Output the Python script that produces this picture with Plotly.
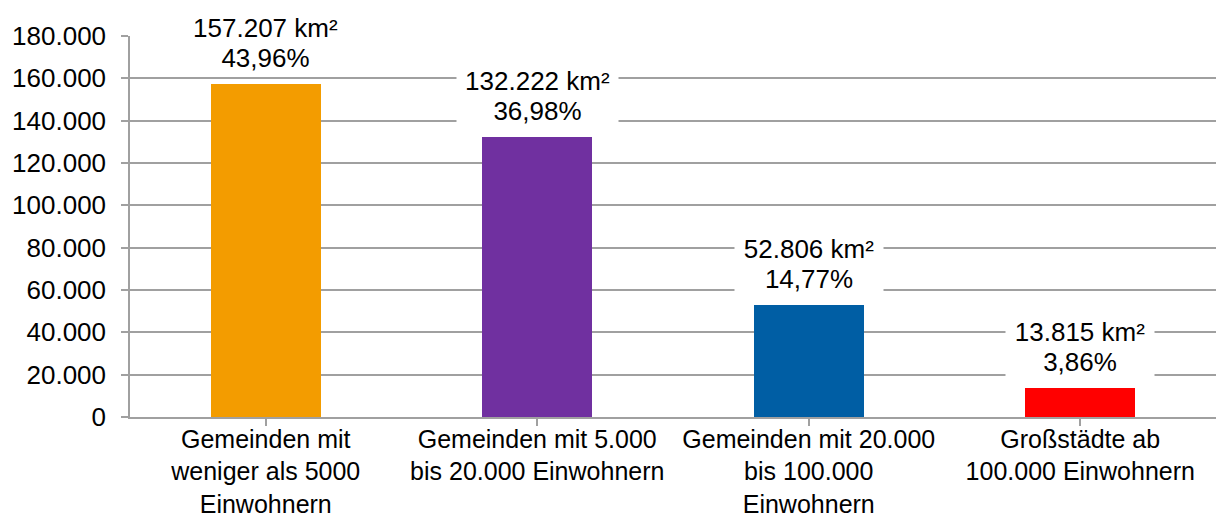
import plotly.graph_objects as go

# Fläche nach Gemeindegrößenklassen
categories = [
    "Gemeinden mit<br>weniger als 5000<br>Einwohnern",
    "Gemeinden mit 5.000<br>bis 20.000 Einwohnern",
    "Gemeinden mit 20.000<br>bis 100.000<br>Einwohnern",
    "Großstädte ab<br>100.000 Einwohnern",
]
area_km2 = [157207, 132222, 52806, 13815]
area_labels = ["157.207 km²", "132.222 km²", "52.806 km²", "13.815 km²"]
share_labels = ["43,96%", "36,98%", "14,77%", "3,86%"]
bar_colors = ["#F39C00", "#7030A0", "#005EA4", "#FF0000"]
y_ticks = [0, 20000, 40000, 60000, 80000, 100000, 120000, 140000, 160000, 180000]

FONT = "Liberation Sans, Arial, sans-serif"
FS = 26
GRID = "#A0A0A0"
LINE_H = 30       # line distance inside the value labels (px)
LABEL_GAP = 26    # bar top -> centre of the lower label line (px)

fig = go.Figure()
fig.add_trace(go.Bar(
    x=list(range(len(categories))),
    y=area_km2,
    width=0.405,
    marker=dict(color=bar_colors, line=dict(width=0)),
    hoverinfo="skip",
))

# two-line value label on a white box above each bar
for i, (v, a, s) in enumerate(zip(area_km2, area_labels, share_labels)):
    box_w = round(len(a) * 13.4) + 10
    for txt, shift in ((a, LABEL_GAP + LINE_H), (s, LABEL_GAP)):
        fig.add_annotation(
            x=i, y=v, xref="x", yref="y",
            text=txt,
            showarrow=False,
            yanchor="middle",
            yshift=shift,
            width=box_w,
            height=LINE_H,
            bgcolor="white",
            borderpad=2,
            font=dict(family=FONT, size=FS, color="black"),
        )

fig.update_layout(
    width=1216, height=521,
    margin=dict(l=130, r=0, t=36, b=104, autoexpand=False),
    paper_bgcolor="white",
    plot_bgcolor="white",
    separators=",.",
    showlegend=False,
    bargap=0,
    font=dict(family=FONT, size=FS, color="black"),
)

fig.update_xaxes(
    range=[-0.5, 3.5],
    tickmode="array",
    tickvals=list(range(len(categories))),
    ticktext=categories,
    tickson="boundaries",
    ticks="outside", ticklen=7, tickcolor=GRID, tickwidth=1.5,
    showline=True, linecolor=GRID, linewidth=1.5,
    showgrid=False, zeroline=False,
    automargin=False,
    ticklabelstandoff=-8,
    tickfont=dict(family=FONT, size=25, color="black"),
)
fig.update_yaxes(
    range=[0, 180000],
    tickmode="array",
    tickvals=y_ticks,
    tickformat=",d",
    ticks="outside", ticklen=7, tickcolor=GRID, tickwidth=1.5,
    showline=True, linecolor=GRID, linewidth=1.5,
    showgrid=True, gridcolor=GRID, gridwidth=1.5,
    zeroline=False,
    automargin=False,
    ticklabelstandoff=10,
    tickfont=dict(family=FONT, size=FS, color="black"),
)

fig.write_html("out.html")
